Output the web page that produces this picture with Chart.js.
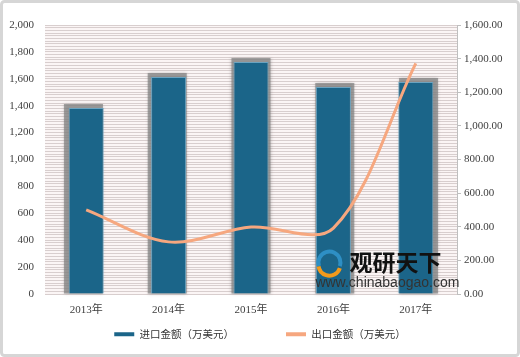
<!DOCTYPE html>
<html>
<head>
<meta charset="utf-8">
<script src="https://cdn.jsdelivr.net/npm/chart.js@4.4.1/dist/chart.umd.min.js"></script>
<style>
html,body{margin:0;padding:0;background:#fff;}
#wrap{width:520px;height:357px;position:relative;}
</style>
</head>
<body>
<div id="wrap"><canvas id="c" width="520" height="357"></canvas></div>
<script>
const categories = ['2013年', '2014年', '2015年', '2016年', '2017年'];
const importValues = [1383, 1613, 1725, 1539, 1576];
const exportValues = [500, 310, 398, 392, 1372];
const seriesNames = ['进口金额（万美元）', '出口金额（万美元）'];
const seriesColors = ['#1b6589', '#f6a77f'];
const leftMax = 2000, leftStep = 20, leftLabelStep = 200;
const rightMax = 1600, rightStep = 200;

const CJK = "'Noto Sans CJK SC', 'Noto Sans', sans-serif";
const NUM = "'Liberation Serif', 'Noto Sans CJK SC', serif";

const framePlugin = {
  id: 'frame',
  beforeDraw(chart) {
    const ctx = chart.ctx, a = chart.chartArea;
    ctx.save();
    ctx.fillStyle = '#ffffff';
    ctx.fillRect(0, 0, chart.width, chart.height);
    ctx.strokeStyle = '#d6d6d6';
    ctx.lineWidth = 3;
    ctx.beginPath();
    if (ctx.roundRect) ctx.roundRect(1.5, 1.5, chart.width - 3, chart.height - 3, 3);
    else ctx.rect(1.5, 1.5, chart.width - 3, chart.height - 3);
    ctx.stroke();
    ctx.fillStyle = '#fbf5f5';
    ctx.fillRect(a.left, a.top, a.right - a.left, a.bottom - a.top);
    ctx.restore();
  },
  beforeDatasetsDraw(chart) {
    const ctx = chart.ctx;
    const meta = chart.getDatasetMeta(1);
    const cx = (chart.chartArea.left + chart.chartArea.right) / 2;
    ctx.save();
    ctx.shadowColor = 'rgba(90,90,90,0.5)';
    ctx.shadowBlur = 3;
    ctx.fillStyle = 'rgba(130,130,130,0.7)';
    meta.data.forEach(el => {
      const x = el.x, y = el.y, base = el.base, w = el.width;
      const dx = (x - cx) / 60;
      ctx.fillRect(x - w / 2 - 2 + dx, y - 4, w + 4, base - y + 4);
    });
    ctx.restore();
  },
  afterDatasetsDraw(chart) {
    // watermark
    const ctx = chart.ctx;
    const x = chart.scales.x.getPixelForValue(3) - 18;
    const y = chart.scales.y.getPixelForValue(330);
    ctx.save();
    ctx.lineWidth = 4;
    ctx.strokeStyle = '#2e8fc4';
    ctx.beginPath(); ctx.arc(x + 14, y + 13, 11, Math.PI * 0.9, Math.PI * 2.1); ctx.stroke();
    ctx.strokeStyle = '#f29a1c';
    ctx.beginPath(); ctx.arc(x + 14, y + 15, 11, Math.PI * 0.1, Math.PI * 0.95); ctx.stroke();
    ctx.fillStyle = '#111';
    ctx.font = "bold 23px " + CJK;
    ctx.textBaseline = 'middle';
    ctx.fillText('观研天下', x + 34, y + 13);
    ctx.fillStyle = '#333';
    ctx.font = "14px 'Liberation Sans', Arial, sans-serif";
    ctx.fillText('www.chinabaogao.com', x, y + 34);
    ctx.restore();
  },
  afterLayout(chart) {
    const lg = chart.legend;
    if (lg) {
      const pad = lg.options.labels.padding;
      lg.top = 335 - pad - 6;
    }
  }
};

new Chart(document.getElementById('c'), {
  data: {
    labels: categories,
    datasets: [
      {
        type: 'line',
        label: seriesNames[1],
        data: exportValues,
        yAxisID: 'y1',
        borderColor: seriesColors[1],
        backgroundColor: seriesColors[1],
        borderWidth: 3,
        pointRadius: 0,
        tension: 0.33,
        order: 0
      },
      {
        type: 'bar',
        label: seriesNames[0],
        data: importValues,
        yAxisID: 'y',
        backgroundColor: seriesColors[0],
        borderColor: '#6aa3c0',
        borderWidth: 1,
        barPercentage: 1,
        categoryPercentage: 0.425,
        order: 1
      }
    ]
  },
  options: {
    responsive: false,
    animation: false,
    devicePixelRatio: 1,
    layout: { padding: { top: 25, left: 0, right: 0, bottom: 0 } },
    plugins: {
      tooltip: { enabled: false },
      legend: {
        position: 'bottom',
        maxHeight: 30,
        reverse: true,
        labels: {
          boxWidth: 20,
          boxHeight: 4,
          padding: 52,
          color: '#333',
          font: { family: CJK, size: 10.5 },
          generateLabels(chart) {
            const items = Chart.defaults.plugins.legend.labels.generateLabels(chart);
            items.forEach(it => {
              const ds = chart.data.datasets[it.datasetIndex];
              const col = ds.type === 'bar' ? seriesColors[0] : seriesColors[1];
              it.fillStyle = col;
              it.strokeStyle = col;
              it.lineWidth = 0;
            });
            return items;
          }
        }
      }
    },
    scales: {
      x: {
        grid: { display: false },
        border: { display: false },
        ticks: { color: '#404040', font: { family: NUM, size: 11 }, padding: 2 },
        afterFit(s) { s.height = 33; }
      },
      y: {
        position: 'left',
        min: 0, max: leftMax,
        grid: { color: '#d8cece', lineWidth: 1, drawTicks: false },
        border: { display: false },
        ticks: {
          stepSize: leftStep,
          autoSkip: false,
          padding: 11,
          color: '#404040',
          font: { family: NUM, size: 11 },
          callback(v) {
            const r = Math.round(v);
            return r % leftLabelStep === 0 ? r.toLocaleString('en-US') : '';
          }
        },
        afterFit(s) { s.width = 45; }
      },
      y1: {
        position: 'right',
        min: 0, max: rightMax,
        grid: { drawOnChartArea: false, drawTicks: true, tickLength: 4, color: '#bfbfbf' },
        border: { display: true, color: '#bfbfbf' },
        ticks: {
          stepSize: rightStep,
          padding: 3,
          color: '#404040',
          font: { family: NUM, size: 11 },
          callback(v) {
            return v.toLocaleString('en-US', { minimumFractionDigits: 2, maximumFractionDigits: 2 });
          }
        },
        afterFit(s) { s.width = 63; }
      }
    }
  },
  plugins: [framePlugin]
});
</script>
</body>
</html>
